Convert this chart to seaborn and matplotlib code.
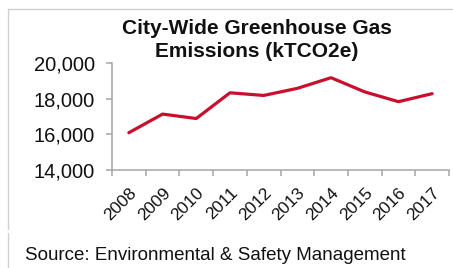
import matplotlib
matplotlib.use("Agg")
import matplotlib.pyplot as plt
import seaborn as sns
import pandas as pd
from matplotlib.lines import Line2D
from matplotlib.ticker import FixedLocator, NullFormatter, FixedFormatter

years = ["2008", "2009", "2010", "2011", "2012", "2013", "2014", "2015", "2016", "2017"]
emissions = [16100, 17150, 16900, 18350, 18200, 18600, 19200, 18400, 17850, 18300]
yticks = [14000, 16000, 18000, 20000]
ytick_labels = ["14,000", "16,000", "18,000", "20,000"]
title = "City-Wide Greenhouse Gas\nEmissions (kTCO2e)"
source = "Source: Environmental & Safety Management"

sns.set_style("white")
plt.rcParams["font.family"] = ["Liberation Sans", "DejaVu Sans"]

df = pd.DataFrame({"year": years, "value": emissions})

W, H = 453, 268
fig = plt.figure(figsize=(W / 100, H / 100), dpi=100)
ax = fig.add_axes([112 / W, 1 - 170 / H, (449 - 112) / W, (170 - 63.5) / H])

sns.lineplot(data=df, x="year", y="value", ax=ax, color="#C8102E", linewidth=2.3, sort=False)

ax.set_xlim(-0.5, len(years) - 0.5)
ax.set_ylim(14000, 20000)
ax.set_xlabel("")
ax.set_ylabel("")

gray = "#A6A6A6"
for s in ["top", "right"]:
    ax.spines[s].set_visible(False)
for s in ["left", "bottom"]:
    ax.spines[s].set_color(gray)
    ax.spines[s].set_linewidth(1.1)

ax.yaxis.set_major_locator(FixedLocator(yticks))
ax.yaxis.set_major_formatter(FixedFormatter(ytick_labels))
ax.tick_params(axis="y", which="major", direction="out", length=4.5, width=1.1, color=gray,
               labelsize=14.5, labelcolor="#111111", pad=8, left=True)

bounds = [i - 0.5 for i in range(len(years) + 1)]
ax.xaxis.set_major_locator(FixedLocator(bounds))
ax.xaxis.set_major_formatter(NullFormatter())
ax.xaxis.set_minor_locator(FixedLocator(list(range(len(years)))))
ax.xaxis.set_minor_formatter(FixedFormatter(years))
ax.tick_params(axis="x", which="major", direction="out", length=4, width=1.1, color=gray, bottom=True)
ax.tick_params(axis="x", which="minor", length=0, labelsize=12.5, labelcolor="#111111", pad=11)
for lbl in ax.get_xticklabels(minor=True):
    lbl.set_rotation(45)
    lbl.set_rotation_mode("anchor")
    lbl.set_ha("right")
    lbl.set_va("top")
ax.grid(False)

fig.text(257 / W, 1 - 19 / H, title, ha="center", va="top", fontsize=15, fontweight="bold",
         color="#111111", linespacing=1.25)
fig.text(25 / W, 1 - 260.5 / H, source, ha="left", va="baseline", fontsize=13.5, color="#111111")

border = "#D0D0D0"
fig.add_artist(Line2D([8 / W, 1], [1 - 9 / H, 1 - 9 / H], color=border, linewidth=1.0))
fig.add_artist(Line2D([8 / W, 8 / W], [1 - 9 / H, 1 - 229 / H], color=border, linewidth=1.0))
fig.add_artist(Line2D([8 / W, 8 / W], [1 - 233 / H, 0], color=border, linewidth=1.0))

fig.savefig("out.png", dpi=100)
